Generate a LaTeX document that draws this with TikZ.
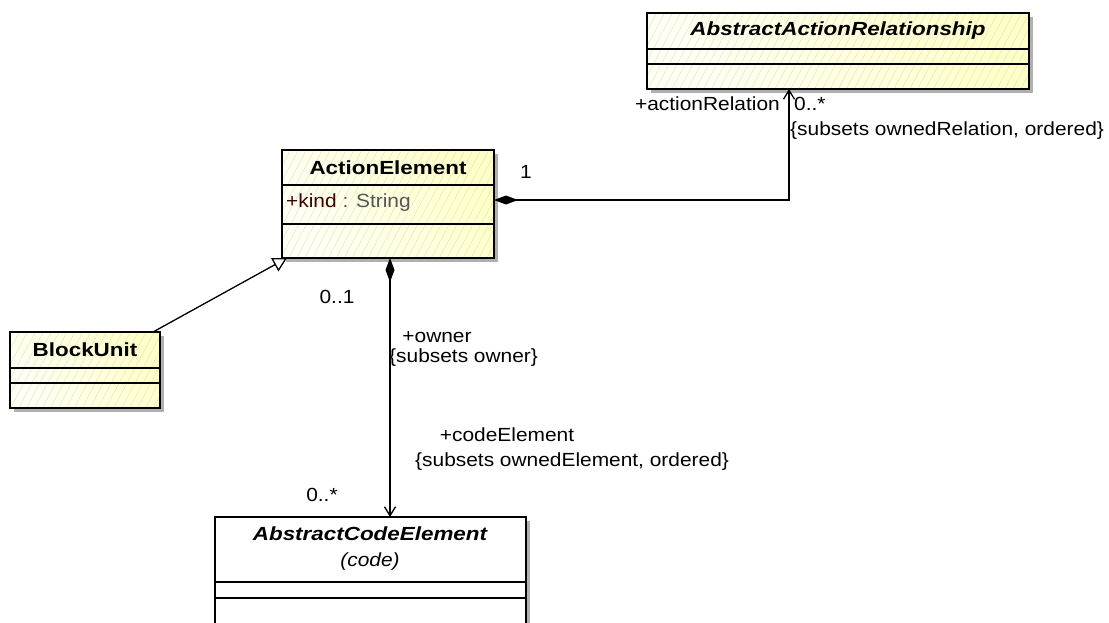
\documentclass[tikz,border=0pt]{standalone}
\usepackage{fontspec}
\setmainfont{Liberation Sans}
\newfontfamily\umltext[FakeStretch=1.1]{Liberation Sans}
\newfontfamily\umltitle[FakeStretch=1.18]{Liberation Sans}
\usetikzlibrary{arrows.meta,patterns.meta,shadows}
\definecolor{fillA}{RGB}{255,255,200}
\definecolor{fillB}{RGB}{255,255,246}
\definecolor{hatch}{RGB}{228,228,196}
\definecolor{shadowgray}{RGB}{176,176,176}
\definecolor{attrname}{RGB}{64,0,0}
\definecolor{attrtype}{RGB}{85,85,85}
\tikzset{
  boxbase/.style={anchor=north west, inner sep=0pt, outer sep=0pt,
    drop shadow={shadow xshift=4pt, shadow yshift=-4pt, fill=shadowgray, opacity=1}},
  yellowbox/.style={boxbase, left color=fillA, right color=fillB, shading angle=300,
    postaction={pattern={Lines[angle=62,distance=7pt,line width=0.5pt]}, pattern color=hatch},
    postaction={draw=black, line width=1.4pt}},
  whitebox/.style={boxbase, fill=white, draw=black, line width=1.4pt},
  divider/.style={draw=black, line width=1.3pt},
  lbl/.style={font=\umltext\fontsize{19}{21}\selectfont, inner sep=0pt},
  ttl/.style={font=\umltitle\fontsize{19}{21}\selectfont\bfseries, inner sep=0pt},
  ttli/.style={font=\umltitle\fontsize{19}{21}\selectfont\bfseries\itshape, inner sep=0pt},
  conn/.style={draw=black, line width=1.3pt},
}
\begin{document}
\begin{tikzpicture}[x=1pt,y=-1pt]
\clip (0,0) rectangle (1109,622);
\fill[white] (0,0) rectangle (1109,622);

% boxes
\node[yellowbox, minimum width=382pt, minimum height=76pt] (aar) at (647,13) {};
\node[yellowbox, minimum width=212pt, minimum height=108pt] (ae) at (282,150) {};
\node[yellowbox, minimum width=150pt, minimum height=76pt] (bu) at (10,332) {};
\node[whitebox, minimum width=311pt, minimum height=130pt] (ace) at (215,517) {};

% dividers
\draw[divider] (aar.west |- 0,49) -- (aar.east |- 0,49);
\draw[divider] (aar.west |- 0,64) -- (aar.east |- 0,64);
\draw[divider] (ae.west |- 0,185) -- (ae.east |- 0,185);
\draw[divider] (ae.west |- 0,224) -- (ae.east |- 0,224);
\draw[divider] (bu.west |- 0,368) -- (bu.east |- 0,368);
\draw[divider] (bu.west |- 0,383) -- (bu.east |- 0,383);
\draw[divider] (ace.west |- 0,582) -- (ace.east |- 0,582);
\draw[divider] (ace.west |- 0,598) -- (ace.east |- 0,598);

% titles
\node[ttli] (aart) at (838,31) {AbstractActionRelationship};
\node[ttl] (aet) at (388,168) {ActionElement};
\node[lbl, anchor=west] (aeattr) at (286,203) {\textcolor{attrname}{+kind}\ \textcolor{attrtype}{: String}};
\node[ttl] (but) at (85,350) {BlockUnit};
\node[ttli] (acet) at (370,534) {AbstractCodeElement};
\node[lbl, font=\umltext\fontsize{19}{21}\selectfont\itshape] (acec) at (370,562) {(code)};

% connectors
\coordinate (aeR) at ([yshift=4pt]ae.east);
\coordinate (aarB) at ([xshift=142pt]aar.south west);
\draw[conn, {Diamond[length=24pt,width=9pt]}-{Straight Barb[length=9pt,width=11pt,line width=1.3pt]}]
  (aeR) -| (aarB);
\coordinate (aeB) at ([xshift=2pt]ae.south);
\coordinate (aceT) at (aeB |- ace.north);
\draw[conn, {Diamond[length=24pt,width=9pt]}-{Straight Barb[length=9pt,width=11pt,line width=1.3pt]}]
  (aeB) -- (aceT);
\coordinate (buTR) at ([xshift=-7pt]bu.north east);
\coordinate (aeBL) at ([xshift=5pt]ae.south west);
\draw[conn, -{Triangle[open,length=14pt,width=15pt,fill=white]}] (buTR) -- (aeBL);

% labels
\node[lbl] (m1) at (526,172) {1};
\node[lbl, anchor=east] (rAR) at (780,104) {+actionRelation};
\node[lbl, anchor=west] (mAR) at (794,104) {0..*};
\node[lbl, anchor=west] (cAR) at (790,131) {\{subsets ownedRelation, ordered\}};
\node[lbl] (m01) at (337,297) {0..1};
\node[lbl] (rOw) at (437,337) {+owner};
\node[lbl, anchor=west] (cOw) at (389,358) {\{subsets owner\}};
\node[lbl] (rCE) at (507,435) {+codeElement};
\node[lbl, anchor=west] (cCE) at (415,462) {\{subsets ownedElement, ordered\}};
\node[lbl] (mCE) at (322,495) {0..*};
\end{tikzpicture}
\end{document}
